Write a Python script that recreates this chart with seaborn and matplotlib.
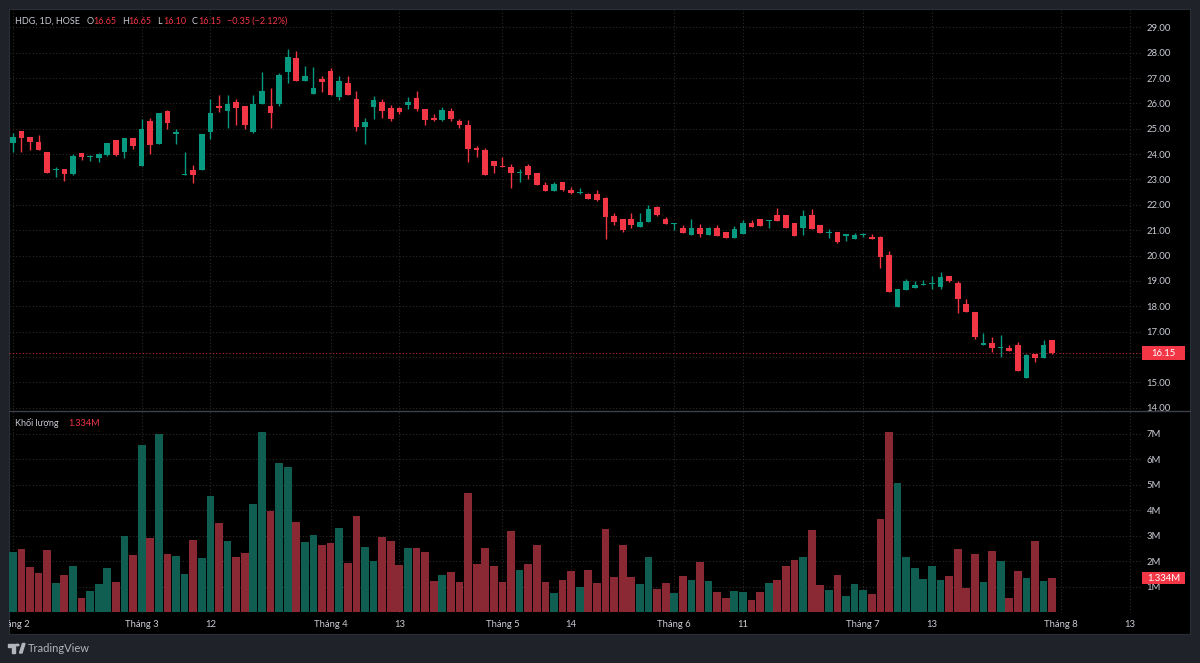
import numpy as np
import pandas as pd
import matplotlib
matplotlib.use("Agg")
import matplotlib.pyplot as plt
import seaborn as sns
from matplotlib.patches import Rectangle, Polygon, Circle
from matplotlib.transforms import Bbox, TransformedBbox, blended_transform_factory
from matplotlib.lines import Line2D

# ---------------- data ----------------
opens = [24.42, 24.90, 24.66, 24.49, 24.08, 23.38, 23.40, 23.22, 24.03, 23.87,
         23.86, 23.96, 24.54, 24.08, 24.62, 23.54, 25.32, 24.39, 25.69, 24.80,
         23.16, 23.39, 23.38, 24.88, 25.89, 25.70, 26.04, 25.88, 24.88, 25.98,
         25.88, 25.98, 27.24, 27.80, 26.88, 26.38, 26.97, 27.26, 26.26, 26.80,
         26.17, 25.06, 25.87, 26.05, 25.82, 25.82, 25.92, 26.21, 25.77, 25.42,
         25.34, 25.71, 25.32, 25.15, 24.24, 24.16, 23.71, 23.54, 23.48, 23.24,
         23.53, 23.24, 22.80, 22.56, 22.89, 22.58, 22.47, 22.43, 22.43, 22.25,
         21.55, 21.43, 21.43, 21.13, 21.33, 21.93, 21.43, 21.24, 21.09, 20.80,
         21.09, 20.80, 21.09, 20.94, 20.71, 20.84, 21.30, 21.45, 21.37, 21.59,
         21.59, 21.30, 21.07, 21.59, 21.20, 20.88, 20.94, 20.79, 20.65, 20.82,
         20.75, 20.75, 20.02, 17.97, 18.66, 18.72, 18.85, 18.88, 18.74, 19.20,
         18.90, 18.08, 17.77, 16.48, 16.54, 16.37, 16.36, 16.48, 15.16, 16.12,
         15.96, 16.65]
highs = [24.85, 24.92, 24.68, 24.74, 24.10, 23.48, 23.42, 23.99, 24.05, 23.96,
         24.03, 24.45, 24.56, 24.63, 24.64, 25.37, 25.41, 25.62, 25.74, 25.00,
         24.08, 23.58, 24.80, 26.17, 26.32, 26.35, 26.17, 25.90, 26.35, 27.22,
         26.59, 27.21, 28.14, 28.08, 27.47, 27.43, 27.08, 27.38, 27.09, 27.09,
         26.50, 25.41, 26.28, 26.19, 25.92, 25.84, 26.27, 26.50, 25.78, 25.58,
         25.84, 25.80, 25.40, 25.34, 24.30, 24.23, 23.73, 23.89, 23.62, 23.41,
         23.60, 23.25, 22.91, 22.91, 22.90, 22.72, 22.68, 22.46, 22.57, 22.32,
         21.66, 21.44, 21.66, 21.66, 21.99, 21.95, 21.53, 21.30, 21.22, 21.46,
         21.26, 21.13, 21.22, 20.94, 21.17, 21.40, 21.40, 21.45, 21.42, 21.89,
         21.59, 21.30, 21.79, 21.83, 21.20, 21.03, 20.94, 20.86, 20.87, 20.88,
         20.84, 20.76, 20.18, 18.70, 19.09, 18.99, 19.03, 19.20, 19.36, 19.20,
         18.99, 18.30, 17.77, 16.94, 16.78, 16.85, 16.48, 16.58, 16.12, 16.12,
         16.68, 16.65]
lows = [24.10, 24.10, 24.16, 24.15, 23.25, 23.11, 22.95, 23.16, 23.77, 23.74,
        23.70, 23.92, 23.94, 23.83, 24.19, 23.52, 24.00, 24.38, 24.99, 24.40,
        23.16, 22.85, 23.36, 24.58, 25.66, 25.04, 25.15, 24.98, 24.82, 25.97,
        25.02, 25.90, 26.82, 26.88, 26.88, 26.38, 26.44, 26.32, 26.14, 26.32,
        24.93, 24.40, 25.37, 25.41, 25.31, 25.60, 25.76, 25.71, 25.15, 25.31,
        25.31, 25.31, 25.04, 23.68, 23.89, 23.19, 23.24, 23.48, 22.65, 22.90,
        23.02, 22.78, 22.55, 22.53, 22.53, 22.44, 22.44, 22.22, 22.15, 20.65,
        21.20, 20.94, 21.09, 21.13, 21.33, 21.57, 21.24, 21.00, 20.87, 20.80,
        20.74, 20.80, 20.76, 20.70, 20.71, 20.84, 21.11, 21.15, 21.09, 21.37,
        21.07, 20.76, 20.80, 21.03, 20.87, 20.71, 20.51, 20.56, 20.65, 20.72,
        20.65, 19.49, 18.57, 17.97, 18.66, 18.72, 18.83, 18.70, 18.70, 18.96,
        17.75, 17.77, 16.72, 16.48, 16.19, 15.99, 16.25, 15.43, 15.16, 15.79,
        15.96, 16.10]
closes = [24.66, 24.65, 24.48, 24.15, 23.27, 23.42, 23.20, 23.93, 23.90, 23.89,
          23.99, 24.45, 23.96, 24.62, 24.32, 24.98, 24.37, 25.62, 25.23, 24.87,
          23.18, 23.19, 24.79, 25.63, 25.82, 25.98, 25.83, 25.15, 25.98, 26.49,
          25.62, 27.12, 27.82, 26.88, 27.08, 26.62, 26.86, 26.32, 26.90, 26.32,
          25.06, 25.27, 26.12, 25.69, 25.40, 25.65, 26.05, 25.79, 25.34, 25.34,
          25.74, 25.40, 25.13, 24.21, 24.16, 23.19, 23.52, 23.48, 23.24, 23.28,
          23.19, 22.79, 22.55, 22.81, 22.60, 22.47, 22.49, 22.22, 22.18, 21.53,
          21.33, 21.00, 21.20, 21.33, 21.83, 21.59, 21.24, 21.26, 20.87, 21.09,
          20.84, 21.09, 20.76, 20.70, 21.04, 21.30, 21.11, 21.15, 21.40, 21.37,
          21.07, 20.76, 21.55, 21.03, 20.87, 20.90, 20.54, 20.82, 20.80, 20.84,
          20.65, 19.95, 18.57, 18.70, 19.00, 18.83, 18.87, 18.90, 19.16, 18.99,
          18.27, 17.77, 16.78, 16.54, 16.36, 16.39, 16.25, 15.43, 16.08, 15.96,
          16.48, 16.15]
volumes_m = [2.35, 2.48, 1.77, 1.54, 2.44, 1.14, 1.44, 1.80, 0.55, 0.82,
             1.12, 1.75, 1.17, 2.98, 2.26, 6.56, 2.92, 7.00, 2.30, 2.22,
             1.50, 2.83, 2.14, 4.58, 3.49, 2.79, 2.16, 2.31, 4.25, 7.09,
             3.96, 5.85, 5.71, 3.53, 2.74, 3.04, 2.62, 2.73, 3.30, 1.92,
             3.76, 2.57, 2.00, 2.95, 2.79, 1.85, 2.53, 2.53, 2.38, 1.24,
             1.44, 1.58, 1.18, 4.69, 1.89, 2.52, 1.82, 1.18, 3.17, 1.67,
             1.88, 2.62, 1.18, 0.74, 1.25, 1.60, 1.00, 1.67, 1.14, 3.26,
             1.37, 2.62, 1.37, 1.12, 2.16, 0.89, 1.14, 0.74, 1.40, 1.27,
             1.95, 1.21, 0.79, 0.54, 0.82, 0.79, 0.48, 0.79, 1.14, 1.25,
             1.82, 2.03, 2.16, 3.23, 1.07, 0.87, 1.47, 0.63, 1.09, 0.87,
             0.70, 3.66, 7.08, 5.06, 2.18, 1.73, 1.29, 1.80, 1.27, 1.42,
             2.48, 0.96, 2.28, 1.17, 2.39, 2.02, 0.57, 1.62, 1.34, 2.78,
             1.22, 1.334]

x_tick_pos = [0, 15, 23, 37, 45, 57, 65, 77, 85, 99, 107, 122, 130]
x_tick_labels = ["Tháng 2", "Tháng 3", "12", "Tháng 4", "13", "Tháng 5", "14",
                 "Tháng 6", "11", "Tháng 7", "13", "Tháng 8", "13"]
price_ticks = list(range(14, 30))
vol_ticks = [1, 2, 3, 4, 5, 6, 7]
vol_tick_labels = ["1M", "2M", "3M", "4M", "5M", "6M", "7M"]

last_price = 16.15
last_volume_label = "1.334M"
header_title = "HDG, 1D, HOSE"
header_ohlc = [("O", "16.65"), ("H", "16.65"), ("L", "16.10"), ("C", "16.15")]
header_change = "\u22120.35 (\u22122.12%)"

# ---------------- style ----------------
UP = "#089981"
DOWN = "#f23645"
VOL_UP = "#0f5e51"
VOL_DOWN = "#8a2833"
GRID = "#2b2b2b"
TXT = "#c9ccd4"
FRAME = "#1f2229"
FS = 6.8

sns.set_theme(style="dark")
plt.rcParams["font.family"] = ["Lato", "DejaVu Sans"]
plt.rcParams["axes.facecolor"] = "black"
plt.rcParams["figure.facecolor"] = FRAME

W, H = 1200, 663
fig = plt.figure(figsize=(W / 100, H / 100), dpi=100)


def fx(px):
    return px / W


def fy(py):
    return 1 - py / H


# black chart area (behind the axes)
fig.patches.append(Rectangle((fx(9), fy(634)), fx(1190) - fx(9), fy(9) - fy(634),
                             transform=fig.transFigure, facecolor="black",
                             edgecolor="#2a2e39", lw=0.8, zorder=-10))

L_PX, R_PX = 9, 1141
axp = fig.add_axes([fx(L_PX), fy(410), fx(R_PX) - fx(L_PX), fy(9) - fy(410)])
axv = fig.add_axes([fx(L_PX), fy(613), fx(R_PX) - fx(L_PX), fy(411) - fy(613)])
axp.set_zorder(2)
axv.set_zorder(2)

n = len(opens)
idx = np.arange(n)
o = np.array(opens); c = np.array(closes); h = np.array(highs); l = np.array(lows)
up = c >= o
cols = np.where(up, UP, DOWN)

# ---- candles ----
axp.vlines(idx, l, h, colors=cols, linewidth=1.0, zorder=3)
body_h = np.maximum(np.abs(c - o), 0.04)
axp.bar(idx, body_h, bottom=np.minimum(o, c), width=0.66, color=cols,
        linewidth=0, zorder=4)

# ---- volume (seaborn) ----
df = pd.DataFrame({"idx": idx, "vol": volumes_m,
                   "dir": np.where(up, "up", "down")})
sns.barplot(data=df, x="idx", y="vol", hue="dir", native_scale=True,
            palette={"up": VOL_UP, "down": VOL_DOWN}, dodge=False, width=0.9,
            saturation=1, legend=False, linewidth=0, ax=axv)

# ---- axes limits ----
x0 = (L_PX - 12.8) / 8.59
x1 = (R_PX - 12.8) / 8.59
for ax in (axp, axv):
    ax.set_xlim(x0, x1)
    ax.set_facecolor("none")
    for s in ax.spines.values():
        s.set_visible(False)
    ax.set_xticks(x_tick_pos)
    ax.grid(True, color=GRID, linestyle=(0, (1, 2)), linewidth=0.8)
    ax.set_axisbelow(True)
    ax.set_xlabel("")
    ax.set_ylabel("")
    ax.yaxis.tick_right()
    ax.tick_params(axis="y", length=0, pad=4, labelsize=FS, labelcolor=TXT)

# price y scale: 29 at y=27.3px, 25.36 px per unit
axp.set_ylim(29 - (410 - 27.3) / 25.36, 29 + (27.3 - 9) / 25.36)
axp.set_yticks(price_ticks)
# the 16.00 label sits under the last-price box, as in the reference
axp.set_yticklabels(["" if abs(t - last_price) < 0.5 else f"{t:.2f}" for t in price_ticks])
axp.tick_params(axis="x", length=0, labelbottom=False)

axv.set_ylim(-(613 - 612.1) / 25.45, (612.1 - 411) / 25.45)
axv.set_yticks(vol_ticks)
axv.set_yticklabels(vol_tick_labels)
axv.set_xticklabels(x_tick_labels)
axv.tick_params(axis="x", length=0, pad=5, labelsize=FS, labelcolor=TXT)

# last price line & labels
axp.axhline(last_price, color=DOWN, linestyle=(0, (1, 2)), linewidth=0.8,
            alpha=0.8, zorder=2)
tp = blended_transform_factory(axp.transAxes, axp.transData)
bx0 = (1142 - L_PX) / (R_PX - L_PX)
bx1 = (1185 - L_PX) / (R_PX - L_PX)
axp.add_patch(Rectangle((bx0, last_price - 0.27), bx1 - bx0, 0.54, transform=tp,
                        facecolor=DOWN, edgecolor="none", clip_on=False, zorder=10))
axp.text((bx0 + bx1) / 2, last_price, f"{last_price:.2f}", transform=tp,
         ha="center", va="center", color="white", fontsize=FS, zorder=11,
         clip_on=False)

tv = blended_transform_factory(axv.transAxes, axv.transData)
vlast = volumes_m[-1]
axv.add_patch(Rectangle((bx0, vlast - 0.24), bx1 - bx0, 0.48, transform=tv,
                        facecolor=DOWN, edgecolor="none", clip_on=False, zorder=10))
axv.text((bx0 + bx1) / 2, vlast, last_volume_label, transform=tv,
         ha="center", va="center", color="white", fontsize=FS, zorder=11,
         clip_on=False)

# pane separator
fig.add_artist(Line2D([fx(9), fx(1190)], [fy(410.5), fy(410.5)],
                      transform=fig.transFigure, color="#3d414b", lw=1.0, zorder=5))

# header
hy = fy(21.5)
fig.text(fx(15), hy, header_title, color=TXT, fontsize=6.5, va="center", zorder=6)
letter_x = [87, 122, 157, 192]
value_x = [93.5, 128.5, 163, 198]
for (lt, val), lx, vx in zip(header_ohlc, letter_x, value_x):
    fig.text(fx(lx), hy, lt, color=TXT, fontsize=6.5, va="center", zorder=6)
    fig.text(fx(vx), hy, val, color=DOWN, fontsize=6.5, va="center", zorder=6)
fig.text(fx(227), hy, header_change, color=DOWN, fontsize=6.5, va="center", zorder=6)

# volume pane title
fig.text(fx(15), fy(423), "Khối lượng", color=TXT, fontsize=6.5, va="center", zorder=6)
fig.text(fx(68), fy(423), last_volume_label, color=DOWN, fontsize=6.5, va="center",
         zorder=6)

# TradingView footer logo
logo_c = "#b2b5be"
fig.patches.append(Polygon([[fx(8), fy(643.5)], [fx(15), fy(643.5)], [fx(15), fy(653)],
                            [fx(12), fy(653)], [fx(12), fy(646.5)], [fx(8), fy(646.5)]],
                           closed=True, transform=fig.transFigure, color=logo_c))
fig.patches.append(Circle((fx(17.5), fy(645)), 1.4 / W, transform=fig.transFigure,
                          color=logo_c))
fig.patches.append(Polygon([[fx(19.5), fy(653)], [fx(22.5), fy(643.5)], [fx(25), fy(643.5)],
                            [fx(22), fy(653)]], closed=True,
                           transform=fig.transFigure, color=logo_c))
fig.text(fx(28), fy(649), "TradingView", color=logo_c, fontsize=8, va="center")

# clip x tick labels to the chart area
fig.canvas.draw()
clipbox = TransformedBbox(Bbox([[fx(9), 0], [fx(1190), 1]]), fig.transFigure)
for lbl in axv.get_xticklabels():
    lbl.set_clip_box(clipbox)
    lbl.set_clip_on(True)

fig.savefig("out.png", dpi=100, facecolor=FRAME)
